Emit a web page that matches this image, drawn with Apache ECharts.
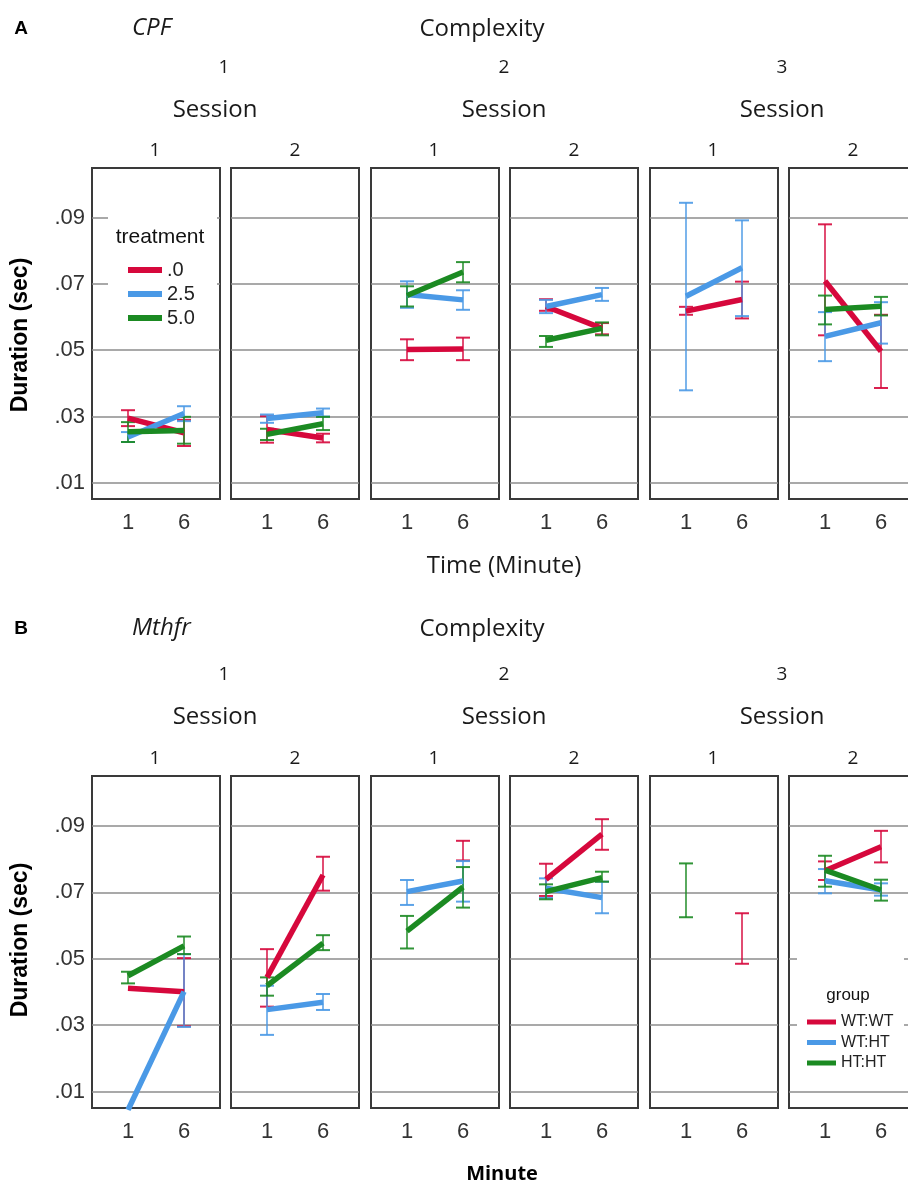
<!DOCTYPE html>
<html>
<head>
<meta charset="utf-8">
<script src="https://cdn.jsdelivr.net/npm/echarts@6/dist/echarts.min.js"></script>
<style>
  html, body { margin: 0; padding: 0; background: #fff; }
  #chart { width: 908px; height: 1184px; }
</style>
</head>
<body>
<div id="chart"></div>
<script>
// panels go: complexity 1 / session 1, c1 s2, c2 s1, c2 s2, c3 s1, c3 s2
const minutes = [1, 6];
const complexities = ['1', '2', '3'];
const sessions = ['1', '2'];
const yTicks = [0.01, 0.03, 0.05, 0.07, 0.09];

const treatments = ['.0', '2.5', '5.0'];
const groups = ['WT:WT', 'WT:HT', 'HT:HT'];

// A - CPF, mean and error bar ends per panel, [minute 1, minute 6]
const cpf0Mean = [[0.0295, 0.0251], [0.0261, 0.0235], [0.0502, 0.0504], [0.0632, 0.0566], [0.0618, 0.0653], [0.0709, 0.0497]];
const cpf0Low  = [[0.0271, 0.0211], [0.0221, 0.0222], [0.0470, 0.0470], [0.0619, 0.0548], [0.0607, 0.0596], [0.0545, 0.0386]];
const cpf0High = [[0.0319, 0.0290], [0.0301, 0.0248], [0.0533, 0.0538], [0.0654, 0.0582], [0.0631, 0.0707], [0.0880, 0.0607]];

const cpf25Mean = [[0.0238, 0.0309], [0.0294, 0.0311], [0.0668, 0.0652], [0.0632, 0.0668], [0.0663, 0.0749], [0.0542, 0.0583]];
const cpf25Low  = [[0.0223, 0.0286], [0.0281, 0.0300], [0.0628, 0.0622], [0.0612, 0.0649], [0.0379, 0.0603], [0.0467, 0.0520]];
const cpf25High = [[0.0253, 0.0331], [0.0306, 0.0324], [0.0708, 0.0681], [0.0652, 0.0688], [0.0945, 0.0892], [0.0615, 0.0645]];

const cpf50Mean = [[0.0254, 0.0258], [0.0246, 0.0278], [0.0665, 0.0736], [0.0530, 0.0566], [null, null], [0.0623, 0.0633]];
const cpf50Low  = [[0.0223, 0.0218], [0.0229, 0.0259], [0.0632, 0.0705], [0.0510, 0.0545], [null, null], [0.0578, 0.0605]];
const cpf50High = [[0.0283, 0.0299], [0.0263, 0.0299], [0.0693, 0.0766], [0.0543, 0.0584], [null, null], [0.0665, 0.0661]];

// B - Mthfr
const wtwtMean = [[0.0411, 0.0401], [0.0444, 0.0752], [null, 0.0826], [0.0739, 0.0875], [null, 0.0561], [0.0765, 0.0837]];
const wtwtLow  = [[null, 0.0297], [0.0356, 0.0705], [null, 0.0796], [0.0689, 0.0828], [null, 0.0485], [0.0737, 0.0790]];
const wtwtHigh = [[null, 0.0502], [0.0529, 0.0807], [null, 0.0855], [0.0786, 0.0920], [null, 0.0637], [0.0793, 0.0885]];

const wthtMean = [[0.0045, 0.0401], [0.0347, 0.0369], [0.0702, 0.0734], [0.0712, 0.0684], [null, null], [0.0735, 0.0707]];
const wthtLow  = [[null, 0.0295], [0.0271, 0.0346], [0.0662, 0.0672], [0.0683, 0.0637], [null, null], [0.0697, 0.0690]];
const wthtHigh = [[null, 0.0514], [0.0419, 0.0394], [0.0737, 0.0794], [0.0742, 0.0732], [null, null], [0.0770, 0.0727]];

const hthtMean = [[0.0449, 0.0539], [0.0419, 0.0547], [0.0583, 0.0716], [0.0702, 0.0744], [0.0706, null], [0.0767, 0.0707]];
const hthtLow  = [[0.0426, 0.0514], [0.0389, 0.0526], [0.0531, 0.0654], [0.0679, 0.0732], [0.0625, null], [0.0717, 0.0675]];
const hthtHigh = [[0.0461, 0.0567], [0.0444, 0.0571], [0.0629, 0.0776], [0.0724, 0.0762], [0.0787, null], [0.0810, 0.0738]];

const colors = ['#d6083c', '#4a99e6', '#1b8a22'];

const panels = [
  { top: 168, height: 331, lines: [
    { name: treatments[0], mean: cpf0Mean, low: cpf0Low, high: cpf0High },
    { name: treatments[1], mean: cpf25Mean, low: cpf25Low, high: cpf25High },
    { name: treatments[2], mean: cpf50Mean, low: cpf50Low, high: cpf50High }
  ]},
  { top: 776, height: 332, lines: [
    { name: groups[0], mean: wtwtMean, low: wtwtLow, high: wtwtHigh },
    { name: groups[1], mean: wthtMean, low: wthtLow, high: wthtHigh },
    { name: groups[2], mean: hthtMean, low: hthtLow, high: hthtHigh }
  ]}
];

const boxLeft = [92, 231, 371, 510, 650, 789];
const boxWidth = 128;
const tickFont = 'Liberation Sans, Arial, sans-serif';
const headFont = 'Open Sans, sans-serif';

const option = {
  animation: false,
  grid: [], xAxis: [], yAxis: [], series: [],
  legend: [
    {
      data: treatments, orient: 'vertical', left: 128, top: 260, padding: 0,
      icon: 'rect', itemWidth: 34, itemHeight: 6, itemGap: 4, selectedMode: false,
      textStyle: { fontSize: 20, color: '#222', fontFamily: tickFont }
    },
    {
      data: groups, orient: 'vertical', left: 807, top: 1014, padding: 0,
      icon: 'rect', itemWidth: 29, itemHeight: 5, itemGap: 4.5, selectedMode: false,
      textStyle: { fontSize: 16, color: '#222', fontFamily: tickFont }
    }
  ],
  graphic: []
};

panels.forEach((panel, p) => {
  for (let i = 0; i < 6; i++) {
    const gi = p * 6 + i;
    // the last box runs past the right edge of the page, as in the original figure
    option.grid.push({
      left: boxLeft[i], top: panel.top, width: boxWidth, height: panel.height,
      outerBoundsMode: 'none', containLabel: false,
      show: true, borderColor: '#3a3a3a', borderWidth: 2
    });
    option.xAxis.push({
      gridIndex: gi, type: 'value', min: -2.214, max: 9.214,
      axisLine: { show: false }, axisTick: { show: false }, splitLine: { show: false },
      axisLabel: { customValues: minutes, fontSize: 22, color: '#333', margin: 13, fontFamily: tickFont }
    });
    option.yAxis.push({
      gridIndex: gi, type: 'value', min: 0.0051, max: 0.105,
      axisLine: { show: false },
      axisTick: { show: false, customValues: yTicks },
      splitLine: { show: true, lineStyle: { color: '#8c8c8c', width: 1.5 } },
      axisLabel: {
        show: i === 0, customValues: yTicks, fontSize: 22, color: '#333', margin: 7, fontFamily: tickFont,
        formatter: v => v.toFixed(2).slice(1)
      }
    });

    panel.lines.forEach((g, k) => {
      const color = colors[k];
      const bars = [];
      minutes.forEach((x, j) => {
        if (g.low[i][j] != null) bars.push([x, g.low[i][j], g.high[i][j]]);
      });
      option.series.push({
        type: 'custom', name: g.name, xAxisIndex: gi, yAxisIndex: gi,
        itemStyle: { color: color },
        data: bars,
        encode: { x: 0, y: [1, 2] },
        renderItem: (params, api) => {
          const hi = api.coord([api.value(0), api.value(2)]);
          const lo = api.coord([api.value(0), api.value(1)]);
          const w = 7;
          return {
            type: 'group',
            children: [
              { type: 'line', shape: { x1: hi[0], y1: hi[1], x2: lo[0], y2: lo[1] }, style: { stroke: color, lineWidth: 1.6, opacity: 0.9 } },
              { type: 'line', shape: { x1: hi[0] - w, y1: hi[1], x2: hi[0] + w, y2: hi[1] }, style: { stroke: color, lineWidth: 2, opacity: 0.9 } },
              { type: 'line', shape: { x1: lo[0] - w, y1: lo[1], x2: lo[0] + w, y2: lo[1] }, style: { stroke: color, lineWidth: 2, opacity: 0.9 } }
            ]
          };
        }
      });
    });
    panel.lines.forEach((g, k) => {
      option.series.push({
        type: 'line', name: g.name, xAxisIndex: gi, yAxisIndex: gi,
        data: minutes.map((x, j) => [x, g.mean[i][j]]),
        showSymbol: false, symbol: 'none',
        itemStyle: { color: colors[k] },
        lineStyle: { color: colors[k], width: 5.5 }
      });
    });
  }
});

// texts round the panels
function txt(text, x, y, size, opts) {
  opts = opts || {};
  return {
    type: 'text', x: x, y: y, z: 5, rotation: opts.rotation || 0,
    style: {
      text: text, x: 0, y: 0,
      font: (opts.style || '') + ' ' + (opts.weight || 'normal') + ' ' + size + 'px ' + (opts.family || headFont),
      fill: opts.color || '#1a1a1a',
      textAlign: opts.align || 'center', textVerticalAlign: 'middle', verticalAlign: 'middle'
    }
  };
}

const sessionX = [155, 295, 434, 574, 713, 853];
const complexityX = [224, 504, 782];
const sessionTitleX = [215, 504, 782];

const heads = [
  { letter: 'A', gene: 'CPF', yTop: 28, yNum: 68, ySes: 110, ySesNum: 151, yDur: 335 },
  { letter: 'B', gene: 'Mthfr', yTop: 628, yNum: 675, ySes: 717, ySesNum: 759, yDur: 940 }
];

heads.forEach(h => {
  option.graphic.push(txt(h.letter, 21, h.yTop + 1, 19, { weight: 'bold', family: tickFont, color: '#000' }));
  option.graphic.push(txt(h.gene, 132, h.yTop, 24, { style: 'italic', align: 'left' }));
  option.graphic.push(txt('Complexity', 482, h.yTop + 1, 24));
  complexities.forEach((c, ci) => {
    option.graphic.push(txt(c, complexityX[ci], h.yNum, 19));
    option.graphic.push(txt('Session', sessionTitleX[ci], h.ySes, 24));
    sessions.forEach((s, si) => {
      option.graphic.push(txt(s, sessionX[ci * 2 + si], h.ySesNum, 19));
    });
  });
  option.graphic.push(txt('Duration (sec)', 21, h.yDur, 23, { weight: 'bold', family: tickFont, color: '#000', rotation: Math.PI / 2 }));
});

option.graphic.push(txt('Time (Minute)', 504, 566, 24));
option.graphic.push(txt('Minute', 502, 1174, 20, { weight: 'bold', color: '#000' }));

// legend backgrounds covering the grid lines
option.graphic.push({ type: 'rect', z: 3, shape: { x: 108, y: 198, width: 109, height: 140 }, style: { fill: '#fff' } });
option.graphic.push({ type: 'rect', z: 3, shape: { x: 797, y: 955, width: 107, height: 130 }, style: { fill: '#fff' } });
option.graphic.push(txt('treatment', 160, 237, 21, { family: tickFont, color: '#111' }));
option.graphic.push(txt('group', 848, 995, 17, { family: tickFont, color: '#111' }));

const chart = echarts.init(document.getElementById('chart'));
chart.setOption(option);
</script>
</body>
</html>
